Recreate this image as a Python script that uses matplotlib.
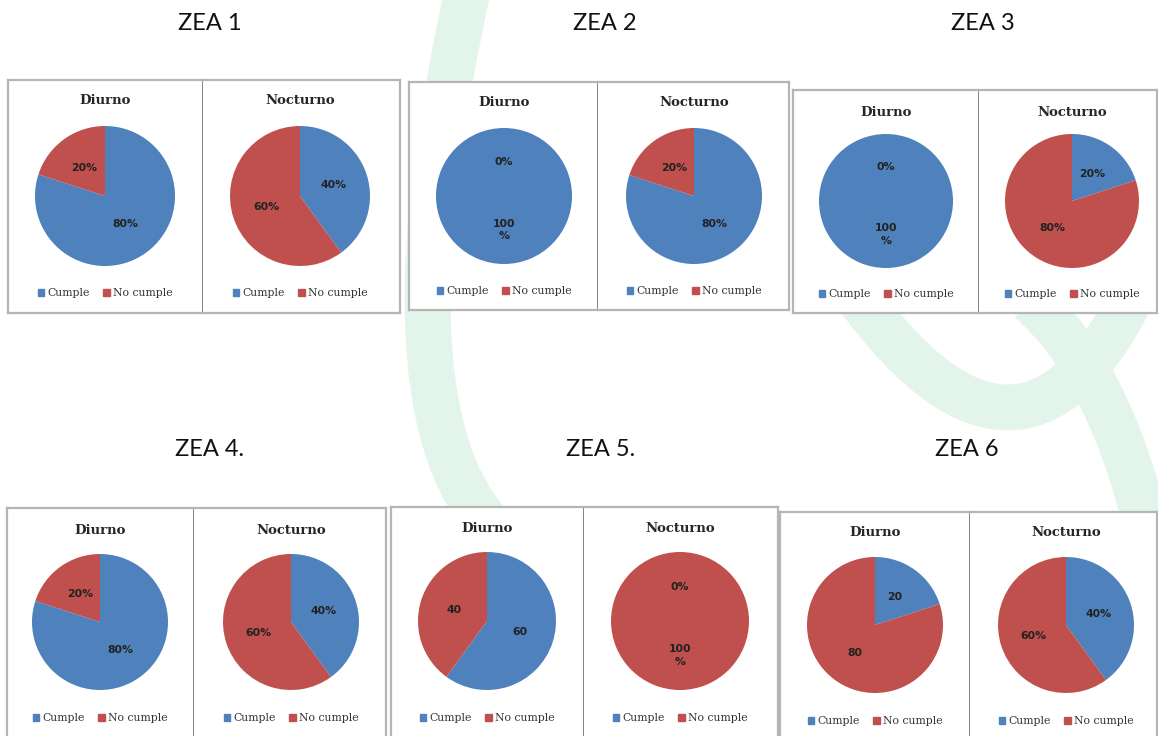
import matplotlib
matplotlib.use("Agg")
import matplotlib.pyplot as plt
from matplotlib.patches import Patch, PathPatch
from matplotlib.path import Path

W, H = 1158, 736

# ========== DATA ==========
ZONES = ["ZEA 1", "ZEA 2", "ZEA 3", "ZEA 4.", "ZEA 5.", "ZEA 6"]
PERIODS = ["Diurno", "Nocturno"]
SERIES = ["Cumple", "No cumple"]

DIURNO_CUMPLE = [80, 100, 100, 80, 60, 20]
DIURNO_NO_CUMPLE = [20, 0, 0, 20, 40, 80]
NOCTURNO_CUMPLE = [40, 80, 20, 40, 0, 40]
NOCTURNO_NO_CUMPLE = [60, 20, 80, 60, 100, 60]

# zones 5 and 6 print the day values without the percent sign
DIURNO_SHOW_PCT = [True, True, True, True, False, False]
NOCTURNO_SHOW_PCT = [True, True, True, True, True, True]

COLORS = ["#4F81BD", "#C0504D"]
MINT = "#E3F4EB"

# ========== LAYOUT (pixels, y from top) ==========
# left, top, divider, right, bottom of each framed pair of charts
FRAMES = [
    (8, 80, 203, 400, 313),
    (409, 82, 598, 789, 310),
    (793, 90, 979, 1157, 313),
    (7, 508, 194, 386, 745),
    (391, 507, 584, 778, 745),
    (780, 512, 970, 1157, 745),
]
# day pie x, night pie x, pie y, radius
PIES = [
    (105, 300, 196, 70),
    (504, 694, 196, 68),
    (886, 1072, 201, 67),
    (100, 291, 622, 68),
    (487, 680, 621, 69),
    (875, 1066, 625, 68),
]
PANEL_TITLE_Y = [101, 103, 112, 530, 528, 533]
LEGEND_Y = [293, 291, 294, 718, 718, 721]
ZONE_TITLE_XY = [(210, 24), (605, 24), (983, 24), (210, 450), (601, 450), (967, 450)]

# faint page watermark strokes: start, control, end
WATERMARK = [
    ((470, -20), (378, 390), (485, 520)),
    ((860, 300), (1020, 515), (1130, 300)),
    ((1030, 300), (1110, 370), (1150, 540)),
]


def fig_rect(l, t, r, b):
    return [l / W, 1 - b / H, (r - l) / W, (b - t) / H]


def fig_xy(x, y):
    return x / W, 1 - y / H


def make_fmt(show_pct):
    def fmt(p):
        v = int(round(p))
        if not show_pct:
            return str(v)
        if v == 100:
            return "100\n%"
        return f"{v}%"
    return fmt


fig = plt.figure(figsize=(W / 100, H / 100), dpi=100)
fig.patch.set_facecolor("white")

# ========== WATERMARK ==========
bg = fig.add_axes([0, 0, 1, 1])
bg.set_xlim(0, W)
bg.set_ylim(H, 0)
bg.axis("off")
for p0, c, p2 in WATERMARK:
    path = Path([p0, c, p2], [Path.MOVETO, Path.CURVE3, Path.CURVE3])
    bg.add_patch(PathPatch(path, fill=False, edgecolor=MINT, lw=33, capstyle="butt"))

# ========== ZONE TITLES ==========
for name, (x, y) in zip(ZONES, ZONE_TITLE_XY):
    fig.text(*fig_xy(x, y), name, ha="center", va="center",
             fontsize=17, family="Lato", color="#111111")

# ========== PIE PANELS ==========
handles = [Patch(color=c, label=s) for c, s in zip(COLORS, SERIES)]

for i in range(len(ZONES)):
    l, t, d, r, b = FRAMES[i]
    dx, nx, cy, R = PIES[i]
    charts = [
        ((l, d), dx, [DIURNO_CUMPLE[i], DIURNO_NO_CUMPLE[i]], DIURNO_SHOW_PCT[i]),
        ((d, r), nx, [NOCTURNO_CUMPLE[i], NOCTURNO_NO_CUMPLE[i]], NOCTURNO_SHOW_PCT[i]),
    ]
    for j, ((pl, pr), cx, vals, show_pct) in enumerate(charts):
        ax = fig.add_axes(fig_rect(pl, t, pr, b))
        ax.set_xticks([])
        ax.set_yticks([])
        ax.set_facecolor("white")
        for s in ax.spines.values():
            s.set_color("#B5B5B5")
            s.set_linewidth(1.6)
        if j == 0:
            ax.spines["right"].set_color("#7A7A7A")
            ax.spines["right"].set_linewidth(1.3)
        else:
            ax.spines["left"].set_visible(False)

        fig.text(*fig_xy(cx, PANEL_TITLE_Y[i]), PERIODS[j], ha="center", va="center",
                 family="DejaVu Serif", weight="bold", fontsize=9.5, color="#262626")

        ax.legend(handles=handles, loc="center",
                  bbox_to_anchor=fig_xy(cx, LEGEND_Y[i]), bbox_transform=fig.transFigure,
                  ncol=2, frameon=False, prop=dict(family="DejaVu Serif", size=7.8),
                  labelcolor="#333333", handlelength=0.6, handleheight=0.6,
                  handletextpad=0.25, columnspacing=1.3, borderpad=0)

        pax = fig.add_axes(fig_rect(cx - R, cy - R, cx + R, cy + R))
        pax.pie(vals, colors=COLORS, startangle=90, counterclock=False, radius=1,
                autopct=make_fmt(show_pct), pctdistance=0.5,
                wedgeprops=dict(linewidth=0),
                textprops=dict(family="DejaVu Sans", weight="bold", fontsize=7.8,
                               color="#222222", linespacing=1.3))
        pax.set_xlim(-1, 1)
        pax.set_ylim(-1, 1)

fig.savefig("out.png", dpi=100)
